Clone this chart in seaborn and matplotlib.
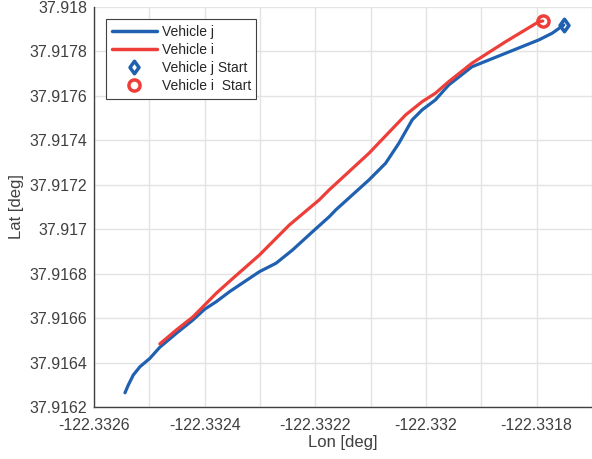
import numpy as np
import pandas as pd
import matplotlib
matplotlib.use('Agg')
import matplotlib.pyplot as plt
from matplotlib.ticker import MultipleLocator, FuncFormatter
from matplotlib.lines import Line2D
from matplotlib.path import Path
import seaborn as sns

# trajectory of vehicle j (blue)
lon_j = [-122.332544, -122.332538, -122.332529, -122.332517, -122.332499, -122.332481,
         -122.332451, -122.332421, -122.332400, -122.332379, -122.332355, -122.332301,
         -122.332271, -122.332241, -122.332205, -122.332175, -122.332163, -122.332103,
         -122.332073, -122.332049, -122.332025, -122.332007, -122.331983, -122.331959,
         -122.331917, -122.331856, -122.331796, -122.331772, -122.331751]
lat_j = [37.916264, 37.916299, 37.916344, 37.916381, 37.916419, 37.916469,
         37.916532, 37.916592, 37.916640, 37.916674, 37.916719, 37.916809,
         37.916847, 37.916907, 37.916989, 37.917056, 37.917087, 37.917222,
         37.917297, 37.917387, 37.917492, 37.917537, 37.917582, 37.917649,
         37.917731, 37.917792, 37.917852, 37.917882, 37.917919]

# trajectory of vehicle i (red)
lon_i = [-122.332481, -122.332451, -122.332421, -122.332400, -122.332379, -122.332349,
         -122.332301, -122.332247, -122.332193, -122.332175, -122.332103, -122.332037,
         -122.332007, -122.331983, -122.331959, -122.331917, -122.331856, -122.331796,
         -122.331789]
lat_i = [37.916484, 37.916547, 37.916606, 37.916659, 37.916712, 37.916779,
         37.916884, 37.917019, 37.917132, 37.917177, 37.917342, 37.917514,
         37.917574, 37.917612, 37.917664, 37.917747, 37.917844, 37.917934,
         37.917937]

start_j = (lon_j[-1], lat_j[-1])
start_i = (lon_i[-1], lat_i[-1])

blue = '#2060B0'
red = '#EE3E3A'
txt = '#404040'

# matlab-like diamond (a bit wider than matplotlib's 'd')
diamond = Path([(0, 1), (0.72, 0), (0, -1), (-0.72, 0), (0, 1)],
               [Path.MOVETO, Path.LINETO, Path.LINETO, Path.LINETO, Path.CLOSEPOLY])

sns.set_style('whitegrid')
plt.rcParams['font.family'] = ['Liberation Sans', 'DejaVu Sans']
plt.rcParams['axes.unicode_minus'] = False

fig = plt.figure(figsize=(5.92, 4.59), dpi=100)
ax = fig.add_axes([94/592, 52/459, 498/592, 400/459])

df_j = pd.DataFrame({'lon': lon_j, 'lat': lat_j})
df_i = pd.DataFrame({'lon': lon_i, 'lat': lat_i})
sns.lineplot(data=df_j, x='lon', y='lat', sort=False, estimator=None, color=blue, lw=2.3, ax=ax)
sns.lineplot(data=df_i, x='lon', y='lat', sort=False, estimator=None, color=red, lw=2.3, ax=ax)
ax.plot(*start_j, marker=diamond, ms=9, mew=2.5, mfc='none', mec=blue, ls='none')
ax.plot(*start_i, marker='o', ms=8, mew=2.5, mfc='none', mec=red, ls='none')

ax.set_xlim(-122.3326, -122.3317)
ax.set_ylim(37.9162, 37.918)
ax.xaxis.set_major_locator(MultipleLocator(0.0002))
ax.xaxis.set_minor_locator(MultipleLocator(0.0001))
ax.yaxis.set_major_locator(MultipleLocator(0.0002))
fmt = FuncFormatter(lambda v, p: f'{v:.4f}'.rstrip('0').rstrip('.'))
ax.xaxis.set_major_formatter(fmt)
ax.yaxis.set_major_formatter(fmt)

ax.grid(True, which='both', color='#e3e3e3', lw=1)
ax.tick_params(axis='both', which='both', direction='in', length=5, width=1,
               color='#404040', labelcolor=txt, labelsize=11.5)
ax.tick_params(axis='y', pad=5)
ax.tick_params(axis='x', pad=8)
for s in ['top', 'right']:
    ax.spines[s].set_visible(False)
for s in ['left', 'bottom']:
    ax.spines[s].set_color('#404040')
    ax.spines[s].set_linewidth(1)

ax.set_xlabel('Lon [deg]', fontsize=12, color=txt, labelpad=1)
ax.set_ylabel('Lat [deg]', fontsize=12, color=txt, labelpad=4)

handles = [Line2D([0], [0], color=blue, lw=2.5),
           Line2D([0], [0], color=red, lw=2.5),
           Line2D([0], [0], marker=diamond, ms=9, mew=2.5, mfc='none', mec=blue, ls='none'),
           Line2D([0], [0], marker='o', ms=8, mew=2.5, mfc='none', mec=red, ls='none')]
labels = ['Vehicle j', 'Vehicle i', 'Vehicle j Start', 'Vehicle i  Start']
leg = ax.legend(handles, labels, loc='upper left', bbox_to_anchor=(0.024, 0.97),
                borderaxespad=0, fontsize=10, handlelength=3.3, handletextpad=0.3,
                labelspacing=0.3, fancybox=False, framealpha=1, borderpad=0.4)
leg.get_frame().set_edgecolor('#404040')
leg.get_frame().set_linewidth(0.8)
for t in leg.get_texts():
    t.set_color('#262626')

fig.savefig('out.png', dpi=100)
